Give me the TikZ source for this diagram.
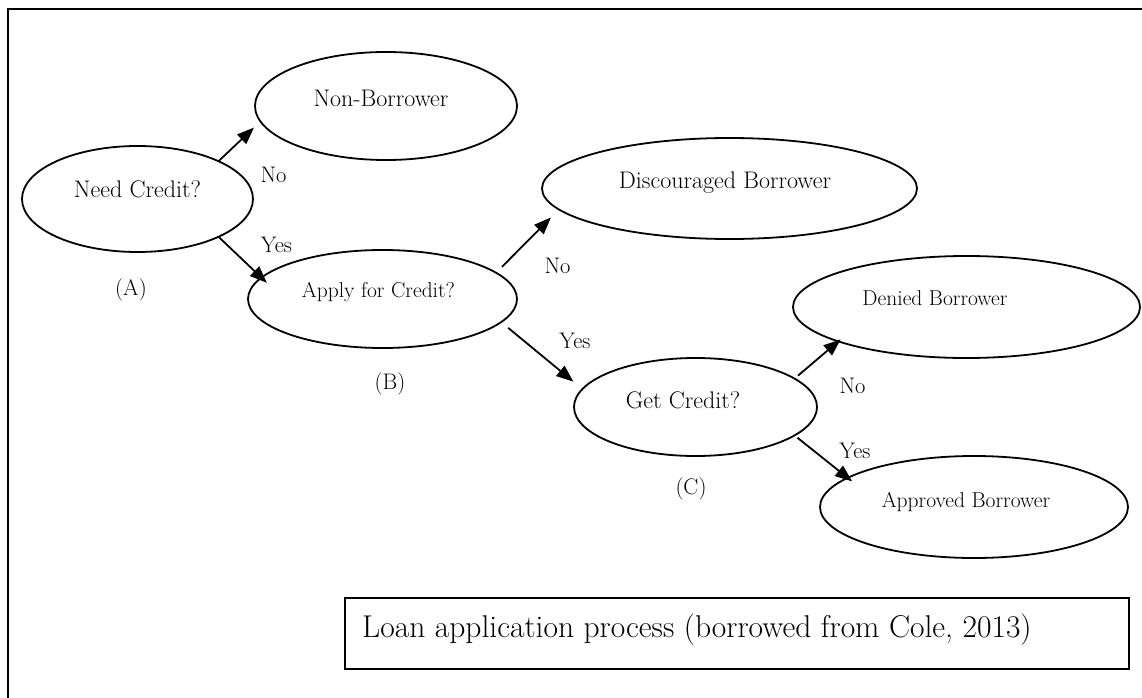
\documentclass[tikz,border=0pt]{standalone}
\usetikzlibrary{shapes.geometric,arrows.meta}
\begin{document}
\begin{tikzpicture}[x=1pt,y=-1pt,
  ell/.style={ellipse,draw,line width=1.8pt,inner sep=0pt,outer sep=0pt},
  big/.style={font=\fontsize{24}{28}\selectfont,anchor=base,inner sep=0pt},
  small/.style={font=\fontsize{21.5}{25}\selectfont,anchor=base,inner sep=0pt},
  lab/.style={font=\fontsize{22.5}{26}\selectfont,anchor=base,inner sep=0pt},
  arr/.style={line width=1.8pt,-{Triangle[length=17pt,width=13pt]}},
  capbox/.style={draw,line width=1.8pt,anchor=north west,inner sep=0pt,outer sep=0pt}]
\useasboundingbox (0,0) rectangle (1142,698);
% frame
\draw[line width=2.2pt] (8,720) -- (8,9) -- (1160,9);
% ellipses
\node[ell,minimum width=231pt,minimum height=106pt] (need) at (137.5,199) {};
\node[ell,minimum width=262pt,minimum height=108pt] (nonb) at (386,106) {};
\node[ell,minimum width=375pt,minimum height=101pt] (disc) at (729.5,188.5) {};
\node[ell,minimum width=269pt,minimum height=98pt] (apply) at (382.5,299) {};
\node[ell,minimum width=243pt,minimum height=98pt] (get) at (695.5,407) {};
\node[ell,minimum width=347pt,minimum height=102pt] (deny) at (966.5,307) {};
\node[ell,minimum width=308pt,minimum height=102pt] (appr) at (974,507) {};
% texts
\node[big] (tneed) at (137.5,197) {Need Credit?};
\node[big] (tnonb) at (381,106.5) {Non-Borrower};
\node[big] (tdisc) at (725,188) {Discouraged Borrower};
\node[small] (tapply) at (378.5,297) {Apply for Credit?};
\node[big] (tget) at (683,408) {Get Credit?};
\node[small] (tdeny) at (935,305) {Denied Borrower};
\node[small] (tappr) at (966,507) {Approved Borrower};
% arrows
\draw[arr,shorten >=9pt] (need.25.85) -- (nonb.187.94);
\draw[arr,shorten >=-7.5pt] (need.-25.85) -- (apply.170.1);
\draw[arr,shorten <=8.3pt,shorten >=11.3pt] (apply.13.82) -- (disc.187.34);
\draw[arr,shorten <=9.1pt,shorten >=11.7pt] (apply.-11.08) -- (get.171.23);
\draw[arr,shorten <=4.6pt,shorten >=-3pt] (get.16.6) -- (deny.195.3);
\draw[arr,shorten <=3.7pt,shorten >=-5.7pt] (get.-16.16) -- (appr.167.9);
% labels
\node[lab] (no1) at (273.5,182) {No};
\node[lab] (yes1) at (276.5,252) {Yes};
\node[lab] (la) at (131,295) {(A)};
\node[lab] (no2) at (557.5,273) {No};
\node[lab] (yes2) at (575,348) {Yes};
\node[lab] (lb) at (390,389) {(B)};
\node[lab] (no3) at (852.5,393) {No};
\node[lab] (yes3) at (855,458) {Yes};
\node[lab] (lc) at (691,494) {(C)};
% caption
\node[capbox,minimum width=784pt,minimum height=71pt] (cap) at (345,598) {};
\node[font=\fontsize{31.5}{36}\selectfont,anchor=base west,inner sep=0pt] (captext) at (362,637) {Loan application process (borrowed from Cole, 2013)};
\end{tikzpicture}
\end{document}
